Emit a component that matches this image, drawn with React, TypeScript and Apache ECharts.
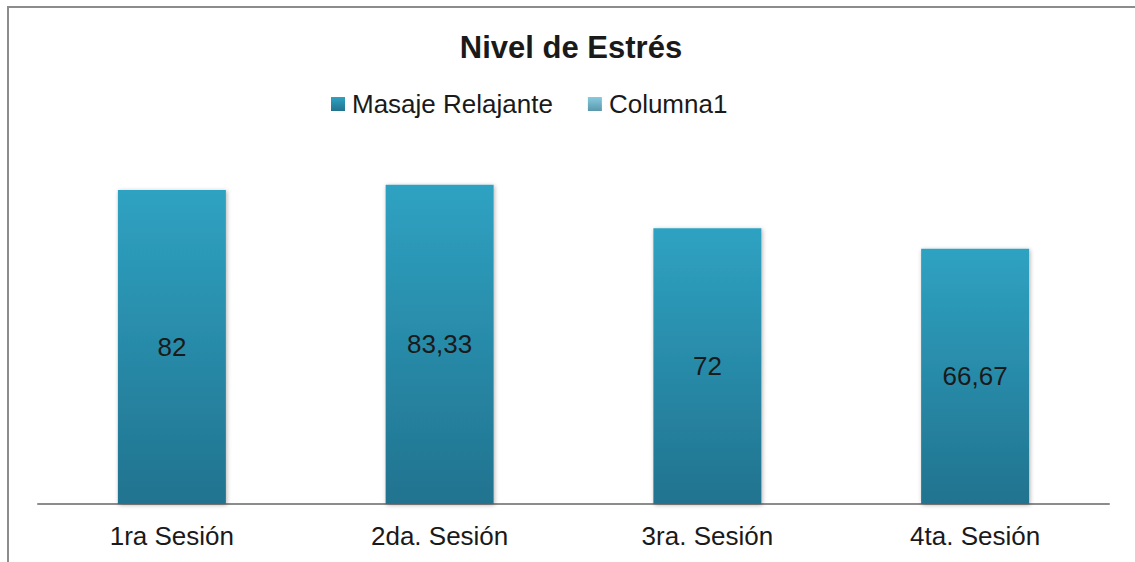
import React, { useEffect, useRef } from "react";
import * as echarts from "echarts";

const categories = ["1ra Sesión", "2da. Sesión", "3ra. Sesión", "4ta. Sesión"];
const masajeValues = [82, 83.33, 72, 66.67];
const columna1Values: number[] = [];
const seriesNames = ["Masaje Relajante", "Columna1"];
const titleText = "Nivel de Estrés";

export default function App() {
  const ref = useRef<HTMLDivElement>(null);
  useEffect(() => {
    if (!ref.current) return;
    const chart = echarts.init(ref.current, undefined, { renderer: "svg" });
    const font = "'Liberation Sans', Arial, sans-serif";
    const barGrad = new echarts.graphic.LinearGradient(0, 0, 0, 1, [
      { offset: 0, color: "#2FA2C2" },
      { offset: 1, color: "#21738F" },
    ]);
    const col1Grad = new echarts.graphic.LinearGradient(0, 0, 0, 1, [
      { offset: 0, color: "#86CBE0" },
      { offset: 1, color: "#5B97AB" },
    ]);
    chart.setOption({
      animation: false,
      backgroundColor: "#ffffff",
      title: {
        text: titleText,
        left: 566,
        textAlign: "center",
        top: 27,
        textStyle: { fontFamily: font, fontSize: 31, fontWeight: "bold", color: "#1a1a1a" },
      },
      legend: {
        left: 326,
        top: 86,
        itemWidth: 14,
        itemHeight: 14,
        itemGap: 35,
        icon: "rect",
        textStyle: { fontFamily: font, fontSize: 26, color: "#1a1a1a", padding: [0, 0, 0, 2] },
        data: seriesNames,
      },
      grid: { left: 38, right: 26, top: 121, bottom: 58 },
      xAxis: {
        type: "category",
        data: categories,
        axisLine: { lineStyle: { color: "#8c8c8c", width: 2 } },
        axisTick: { show: false },
        axisLabel: { fontFamily: font, fontSize: 26, color: "#1a1a1a", margin: 19 },
      },
      yAxis: {
        type: "value",
        min: 0,
        max: 100,
        show: false,
        splitLine: { show: false },
      },
      graphic: [
        {
          type: "rect",
          shape: { x: 8, y: 7, width: 1200, height: 700 },
          style: { fill: "none", stroke: "#8c8c8c", lineWidth: 2 },
          silent: true,
          z: -1,
        },
      ],
      series: [
        {
          name: seriesNames[0],
          type: "bar",
          data: masajeValues,
          barWidth: 108,
          barGap: "-100%",
          itemStyle: {
            color: barGrad,
            shadowBlur: 4,
            shadowColor: "rgba(0,0,0,0.3)",
            shadowOffsetX: 1,
            shadowOffsetY: 1,
          },
          label: {
            show: true,
            position: "inside",
            fontFamily: font,
            fontSize: 26,
            color: "#1a1a1a",
            formatter: (p: any) => String(p.value).replace(".", ","),
          },
        },
        {
          name: seriesNames[1],
          type: "bar",
          data: columna1Values,
          barWidth: 108,
          itemStyle: { color: col1Grad },
        },
      ],
    });
    return () => chart.dispose();
  }, []);
  return (
    <div
      ref={ref}
      style={{ position: "fixed", left: 0, top: 0, width: 1135, height: 562 }}
    />
  );
}
